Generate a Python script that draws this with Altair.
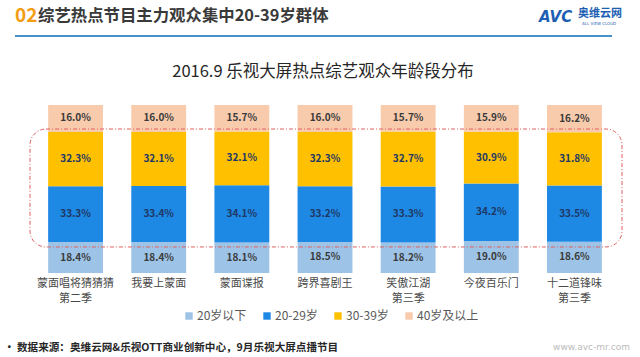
import altair as alt
import pandas as pd

shows = ["蒙面唱将猜猜猜\n第二季", "我要上蒙面", "蒙面谍报", "跨界喜剧王",
         "笑傲江湖\n第三季", "今夜百乐门", "十二道锋味\n第三季"]
groups = ["20岁以下", "20-29岁", "30-39岁", "40岁及以上"]
under20 = [18.4, 18.4, 18.1, 18.5, 18.2, 19.0, 18.6]
age20_29 = [33.3, 33.4, 34.1, 33.2, 33.3, 34.2, 33.5]
age30_39 = [32.3, 32.1, 32.1, 32.3, 32.7, 30.9, 31.8]
over40 = [16.0, 16.0, 15.7, 16.0, 15.7, 15.9, 16.2]
colors = ["#9DC3E6", "#1E88E5", "#FFC000", "#F8CBAD"]
label_colors = ["#3A3A3A", "#1F3864", "#1F3864", "#3A3A3A"]

rows = []
for gi, (g, vals) in enumerate(zip(groups, [under20, age20_29, age30_39, over40])):
    for s, v in zip(shows, vals):
        rows.append({"show": s, "group": g, "order": gi, "value": v,
                     "label": f"{v:.1f}%", "lc": label_colors[gi]})
df = pd.DataFrame(rows)

FONT = "Noto Sans CJK SC"

base = alt.Chart(df).transform_stack(
    stack="value", groupby=["show"], as_=["y0", "y1"],
    sort=[alt.SortField("order", "ascending")], offset="normalize"
).transform_calculate(mid="(datum.y0 + datum.y1) / 2")

xenc = alt.X("show:N", sort=shows, title=None,
             scale=alt.Scale(paddingInner=0.34, paddingOuter=0.17),
             axis=alt.Axis(domain=False, ticks=False, labelAngle=0,
                           labelExpr="split(datum.label, '\\n')",
                           labelFont=FONT, labelFontSize=11, labelColor="#4A4A4A",
                           labelPadding=4, labelLineHeight=15))

bars = base.mark_bar().encode(
    x=xenc,
    y=alt.Y("y0:Q", scale=alt.Scale(domain=[0, 1], nice=False), axis=None),
    y2="y1:Q",
    color=alt.Color("group:N", sort=groups,
                    scale=alt.Scale(domain=groups, range=colors),
                    legend=alt.Legend(title=None, orient="none", direction="horizontal",
                                      legendX=149, legendY=205, symbolType="square",
                                      symbolSize=55, symbolStrokeWidth=0,
                                      labelFont=FONT, labelFontSize=12,
                                      labelColor="#595959", columnPadding=14,
                                      symbolOffset=0, labelOffset=2)),
)

texts = base.mark_text(font=FONT, fontSize=10, fontWeight="bold").encode(
    x=alt.X("show:N", sort=shows),
    y=alt.Y("mid:Q"),
    text="label:N",
    color=alt.Color("lc:N", scale=None),
)

frame = alt.Chart(pd.DataFrame({"k": [0]})).mark_rect(
    filled=False, stroke="#E06060", strokeWidth=1, strokeDash=[4, 2, 1, 2],
    cornerRadius=16
).encode(x=alt.value(-4), x2=alt.value(588), y=alt.datum(0.857), y2=alt.datum(0.155))

hdr = pd.DataFrame({"t": ["02"]})
num = alt.Chart(hdr).mark_text(font=FONT, fontSize=19, fontWeight="bold", color="#F39C12",
                               align="left", baseline="middle").encode(
    x=alt.value(-19), y=alt.value(-89), text="t:N")
head = alt.Chart(pd.DataFrame({"t": ["综艺热点节目主力观众集中20-39岁群体"]})).mark_text(
    font=FONT, fontSize=16.4, fontWeight="bold", color="#3A3A3A", align="left",
    baseline="middle").encode(x=alt.value(4), y=alt.value(-89), text="t:N")
line = alt.Chart(pd.DataFrame({"k": [0]})).mark_rule(color="#4A90C8", strokeWidth=2).encode(
    x=alt.value(-19), x2=alt.value(578), y=alt.value(-69))
avc = alt.Chart(pd.DataFrame({"t": ["AVC"]})).mark_text(
    font="DejaVu Sans", fontSize=15, fontWeight="bold", fontStyle="italic", color="#1E5FB4",
    align="left", baseline="middle").encode(x=alt.value(505), y=alt.value(-88), text="t:N")
avc2 = alt.Chart(pd.DataFrame({"t": ["奥维云网"]})).mark_text(
    font=FONT, fontSize=11, fontWeight="bold", color="#1E5FB4",
    align="left", baseline="middle").encode(x=alt.value(544), y=alt.value(-91), text="t:N")
avc3 = alt.Chart(pd.DataFrame({"t": ["ALL VIEW CLOUD"]})).mark_text(
    font="DejaVu Sans", fontSize=4, color="#1E5FB4",
    align="left", baseline="middle").encode(x=alt.value(548), y=alt.value(-81), text="t:N")
title = alt.Chart(pd.DataFrame({"t": ["2016.9 乐视大屏热点综艺观众年龄段分布"]})).mark_text(
    font=FONT, fontSize=16.5, color="#262626", align="center",
    baseline="middle").encode(x=alt.value(289), y=alt.value(-33), text="t:N")
foot = alt.Chart(pd.DataFrame({"t": ["·  数据来源：奥维云网&乐视OTT商业创新中心，9月乐视大屏点播节目"]})).mark_text(
    font=FONT, fontSize=10.6, fontWeight="bold", color="#262626", align="left",
    baseline="middle").encode(x=alt.value(-30), y=alt.value(243), text="t:N")
site = alt.Chart(pd.DataFrame({"t": ["www.avc-mr.com"]})).mark_text(
    font="DejaVu Sans", fontSize=9, color="#BBBBBB", align="right",
    baseline="middle").encode(x=alt.value(596), y=alt.value(242), text="t:N")

chart = alt.layer(bars, texts, frame, num, head, line, avc, avc2, avc3, title, foot, site).properties(
    width=582, height=168,
    padding={"left": 34, "top": 105, "right": 24, "bottom": 84},
    autosize=alt.AutoSizeParams(type="none"),
    background="white",
).configure_view(stroke=None)

chart.save("out.html", embed_options={"renderer": "svg", "actions": False})
